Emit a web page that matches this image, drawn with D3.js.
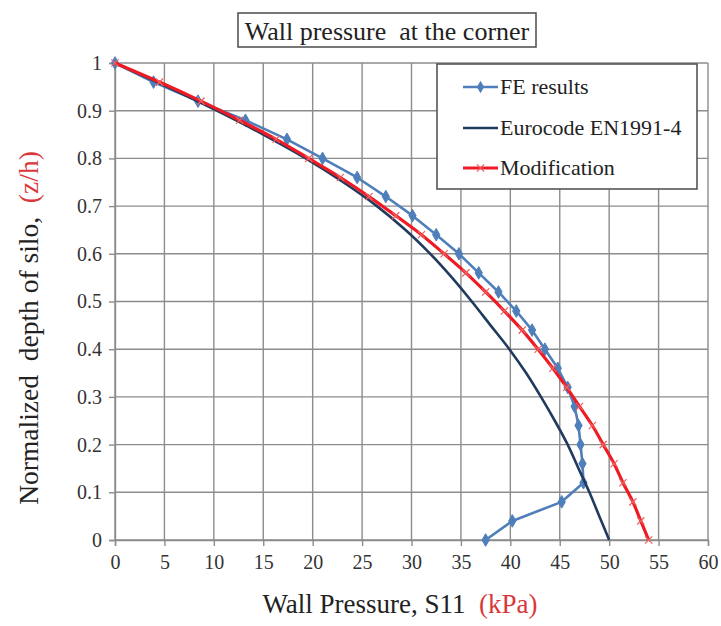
<!DOCTYPE html>
<html>
<head>
<meta charset="utf-8">
<script src="https://cdn.jsdelivr.net/npm/d3@7"></script>
<style>
  html, body { margin: 0; padding: 0; background: #fff; }
  svg { display: block; }
  text { font-family: "Liberation Serif", "Times New Roman", serif; }
</style>
</head>
<body>
<svg id="chart" width="721" height="626"></svg>
<script>
// Normalized depth levels (z/h) sampled for the FE model and the modified curve
const depthLevels = [1.00, 0.96, 0.92, 0.88, 0.84, 0.80, 0.76, 0.72, 0.68, 0.64, 0.60, 0.56, 0.52,
                     0.48, 0.44, 0.40, 0.36, 0.32, 0.28, 0.24, 0.20, 0.16, 0.12, 0.08, 0.04, 0.00];

// Wall pressure S11 (kPa) from the finite element model, one per depth level
const feResults = [0, 3.9, 8.4, 13.2, 17.4, 21.0, 24.5, 27.4, 30.1, 32.5, 34.8, 36.8, 38.8,
                   40.6, 42.2, 43.5, 44.8, 45.8, 46.5, 46.9, 47.1, 47.3, 47.4, 45.2, 40.2, 37.5];

// Modified pressure distribution (kPa), one per depth level
const modification = [0, 4.5, 8.7, 12.6, 16.3, 19.6, 22.8, 25.7, 28.4, 31.0, 33.3, 35.5, 37.5,
                      39.4, 41.2, 42.8, 44.3, 45.7, 47.0, 48.3, 49.4, 50.5, 51.4, 52.4, 53.2, 54.0];

// Eurocode EN1991-4 curve (kPa) on its own depth levels
const eurocodeDepth = [1.00, 0.95, 0.90, 0.85, 0.80, 0.75, 0.70, 0.65, 0.60, 0.55, 0.50,
                       0.45, 0.40, 0.35, 0.30, 0.25, 0.20, 0.15, 0.10, 0.05, 0.00];
const eurocode = [0, 5.3, 10.3, 15.0, 19.3, 23.1, 26.5, 29.4, 31.9, 34.1, 36.1,
                  38.0, 39.9, 41.6, 43.1, 44.5, 45.8, 46.9, 48.0, 49.0, 50.0];

// Axis ticks
const xTicks = [0, 5, 10, 15, 20, 25, 30, 35, 40, 45, 50, 55, 60];
const yTicks = [0, 0.1, 0.2, 0.3, 0.4, 0.5, 0.6, 0.7, 0.8, 0.9, 1];

const seriesNames = ["FE results", "Eurocode EN1991-4", "Modification"];
const colors = { fe: "#4f7fbb", euro: "#213b5e", mod: "#ee1b24" };
const serif = "'Liberation Serif', 'Times New Roman', serif";

const svg = d3.select("#chart");

const x = d3.scaleLinear().domain([0, 60]).range([115, 708]);
const y = d3.scaleLinear().domain([0, 1]).range([540, 63]);

// Grid
const grid = svg.append("g").attr("class", "grid");
grid.selectAll("line.v").data(xTicks).join("line")
  .attr("class", "v")
  .attr("x1", d => x(d)).attr("x2", d => x(d))
  .attr("y1", y(0)).attr("y2", y(1))
  .attr("stroke", "#8c8c8c").attr("stroke-width", 1.4);
grid.selectAll("line.h").data(yTicks).join("line")
  .attr("class", "h")
  .attr("x1", x(0)).attr("x2", x(60))
  .attr("y1", d => y(d)).attr("y2", d => y(d))
  .attr("stroke", "#8c8c8c").attr("stroke-width", 1.4);

// Axes
const xAxis = d3.axisBottom(x).tickValues(xTicks).tickSize(6).tickPadding(8).tickFormat(d3.format("d"));
const yAxis = d3.axisLeft(y).tickValues(yTicks).tickSize(6).tickPadding(7)
  .tickFormat(d => d === 0 || d === 1 ? String(d) : d3.format(".1f")(d));

const gx = svg.append("g").attr("transform", `translate(0,${y(0)})`).call(xAxis);
const gy = svg.append("g").attr("transform", `translate(${x(0)},0)`).call(yAxis);
[gx, gy].forEach(g => {
  g.attr("font-family", null);
  g.select(".domain").attr("stroke", "#8c8c8c").attr("stroke-width", 1.4);
  g.selectAll(".tick line").attr("stroke", "#8c8c8c").attr("stroke-width", 1.4);
  g.selectAll(".tick text").attr("fill", "#333").style("font-size", "20px").style("font-family", serif);
});
gx.selectAll(".tick text").attr("dy", "0.75em");

// Series
const feData = depthLevels.map((d, i) => [feResults[i], d]);
const modData = depthLevels.map((d, i) => [modification[i], d]);
const euroData = eurocodeDepth.map((d, i) => [eurocode[i], d]);

const smooth = d3.line().x(d => x(d[0])).y(d => y(d[1])).curve(d3.curveMonotoneY);
const straight = d3.line().x(d => x(d[0])).y(d => y(d[1]));

svg.append("path").datum(feData).attr("d", straight)
  .attr("fill", "none").attr("stroke", colors.fe).attr("stroke-width", 2.6).attr("stroke-linejoin", "round");
const diamond = d3.symbol().type(d3.symbolDiamond).size(46);
svg.selectAll("path.fe-pt").data(feData).join("path")
  .attr("class", "fe-pt")
  .attr("transform", d => `translate(${x(d[0])},${y(d[1])})`)
  .attr("d", diamond).attr("fill", colors.fe).attr("stroke", colors.fe).attr("stroke-width", 1);

svg.append("path").datum(euroData).attr("d", smooth)
  .attr("fill", "none").attr("stroke", colors.euro).attr("stroke-width", 2.6);

svg.append("path").datum(modData).attr("d", smooth)
  .attr("fill", "none").attr("stroke", colors.mod).attr("stroke-width", 3.2);
const cross = d3.symbol().type(d3.symbolX).size(36);
svg.selectAll("path.mod-pt").data(modData).join("path")
  .attr("class", "mod-pt")
  .attr("transform", d => `translate(${x(d[0])},${y(d[1])})`)
  .attr("d", cross).attr("fill", "none").attr("stroke", "#f06060").attr("stroke-width", 1.2);

// Title box
svg.append("rect").attr("x", 238).attr("y", 13).attr("width", 298).attr("height", 34)
  .attr("fill", "#fff").attr("stroke", "#555").attr("stroke-width", 1.6);
svg.append("text").attr("x", 387).attr("y", 40).attr("text-anchor", "middle")
  .style("font-size", "26px").style("font-family", serif).attr("fill", "#222")
  .style("white-space", "pre")
  .text("Wall pressure  at the corner");

// Legend
const legend = svg.append("g");
legend.append("rect").attr("x", 437).attr("y", 64).attr("width", 260).attr("height", 125)
  .attr("fill", "#fff").attr("stroke", "#555").attr("stroke-width", 1.6);
const rows = [87, 128, 168];
const legendColors = [colors.fe, colors.euro, colors.mod];
seriesNames.forEach((name, i) => {
  const ly = rows[i];
  legend.append("line").attr("x1", 463).attr("x2", 498).attr("y1", ly).attr("y2", ly)
    .attr("stroke", legendColors[i]).attr("stroke-width", i === 2 ? 3.2 : 2.6);
  if (i === 0) {
    legend.append("path").attr("transform", `translate(480.5,${ly})`).attr("d", diamond)
      .attr("fill", colors.fe);
  }
  if (i === 2) {
    legend.append("path").attr("transform", `translate(480.5,${ly})`).attr("d", cross)
      .attr("fill", "none").attr("stroke", "#f06060").attr("stroke-width", 1.2);
  }
  legend.append("text").attr("x", 500).attr("y", ly + 7)
    .style("font-size", "22px").style("font-family", serif).attr("fill", "#222")
    .text(name);
});

// Axis titles
const xt = svg.append("text").attr("x", 400).attr("y", 613).attr("text-anchor", "middle")
  .style("font-size", "27px").style("font-family", serif).attr("fill", "#222").style("white-space", "pre");
xt.append("tspan").text("Wall Pressure, S11  ");
xt.append("tspan").attr("fill", "#d9383a").text("(kPa)");

const yt = svg.append("text").attr("transform", "translate(38,328) rotate(-90)")
  .attr("text-anchor", "middle").style("font-size", "27.5px").style("font-family", serif)
  .attr("fill", "#222").style("white-space", "pre");
yt.append("tspan").text("Normalized  depth of silo,  ");
yt.append("tspan").attr("fill", "#d9383a").text("(z/h)");
</script>
</body>
</html>
